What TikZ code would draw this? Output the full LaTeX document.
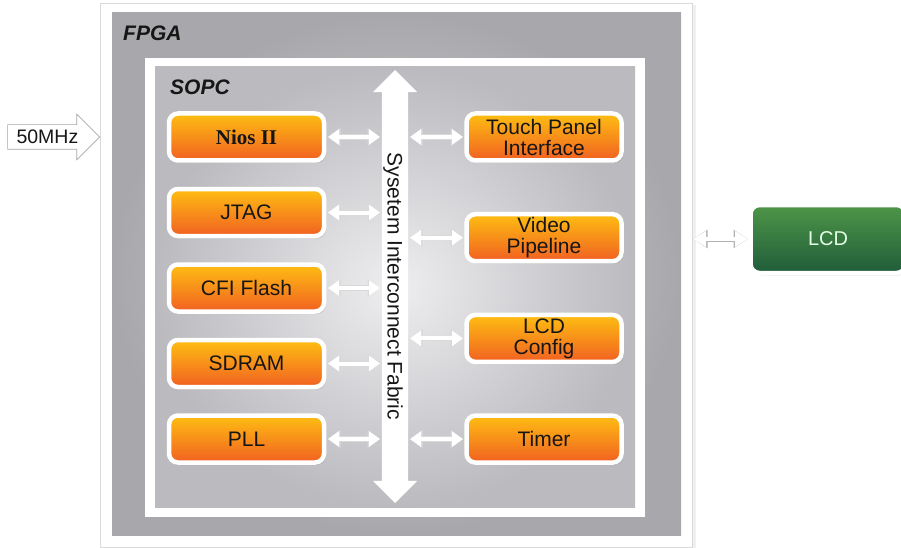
\documentclass[tikz,border=0pt]{standalone}
\usepackage{fontspec}
\setmainfont{Liberation Sans}
\newfontfamily\niosfont{Liberation Serif}
\usepackage{tikz}
\usetikzlibrary{positioning}
\usetikzlibrary{shapes.arrows,arrows.meta,shadows}
\usepackage{xcolor}

\definecolor{orangetop}{RGB}{254,190,18}
\definecolor{orangebot}{RGB}{241,96,34}
\definecolor{greentop}{RGB}{78,150,72}
\definecolor{greenbot}{RGB}{32,92,58}
\definecolor{fpgaout}{RGB}{168,168,172}
\definecolor{fpgain}{RGB}{214,214,216}
\definecolor{sopcout}{RGB}{186,186,191}
\definecolor{sopcin}{RGB}{238,238,240}
\definecolor{textdark}{RGB}{22,22,22}

\begin{document}
\begin{tikzpicture}[x=1pt, y=-1pt,
		framenode/.style={rectangle, fill=white, inner sep=0pt, outer sep=0pt},
		panelnode/.style={rectangle, inner sep=0pt, outer sep=0pt, inner color=#1in, outer color=#1out},
		titlenode/.style={inner sep=0pt, text=textdark, font=\fontsize{21}{21}\selectfont\bfseries\itshape},
		blocknode/.style={rectangle, rounded corners=9pt, draw=white, line width=4.5pt, top color=orangetop, bottom color=orangebot, minimum width=155pt, minimum height=47pt, inner sep=0pt, outer sep=0pt, align=center, text=textdark, font=\fontsize{21}{21}\selectfont, drop shadow={opacity=0.22, shadow xshift=2pt, shadow yshift=-2.5pt}},
		lcdnode/.style={blocknode, top color=greentop, bottom color=greenbot, minimum height=68pt, text=white!90!green, font=\fontsize{20}{20}\selectfont},
		busnode/.style={double arrow, fill=white, draw=none, rotate=-90, double arrow head extend=9pt, minimum height=433pt, inner xsep=0pt, inner ysep=0pt, text height=20.5pt, text depth=5.5pt, text=textdark, font=\fontsize{21}{21}\selectfont},
		clknode/.style={single arrow, fill=white, draw=black!35, line width=0.6pt, single arrow head extend=10.5pt, minimum height=92pt, inner xsep=3pt, inner ysep=0pt, text height=19pt, text depth=5pt, text=textdark, font=\fontsize{19.5}{19.5}\selectfont},
		linktip/.tip={Triangle[length=11pt,width=15pt]},
		linkedge/.tip={Triangle[length=12.5pt,width=17.5pt]},
		lcdtip/.tip={Triangle[length=13pt,width=15pt]},
		lcdedge/.tip={Triangle[length=14.5pt,width=17.5pt]},
		link/.style={draw=white, line width=4pt, linktip-linktip, preaction={draw=black!15, line width=5.5pt, linkedge-linkedge}},
		lcdlink/.style={draw=white, line width=3.5pt, lcdtip-lcdtip, preaction={draw=black!30, line width=5pt, lcdedge-lcdedge}},
		]
		\useasboundingbox (0,0) rectangle (901,548);
		
		%Panels
		\node[framenode, draw=black!15, line width=0.6pt, drop shadow={opacity=0.12, shadow xshift=4pt, shadow yshift=-2pt}, minimum width=592pt, minimum height=544pt] (fpgaframe) at (396,275) {};
		\node[panelnode=fpga, minimum width=569pt, minimum height=522pt] (fpga) at (396.5,274) {};
		\node[framenode, minimum width=500pt, minimum height=459pt] (sopcframe) at (395,287.5) {};
		\node[panelnode=sopc, minimum width=480pt, minimum height=440pt] (sopc) at (395,287) {};
		\node[titlenode] (fpga-title) [below right=12.5pt and 11pt of fpga.north west] {FPGA};
		\node[titlenode] (sopc-title) [below right=12.5pt and 15pt of sopc.north west] {SOPC};
		
		%Bus
		\node[busnode] (bus) at (395,286.5) {Sysetem Interconnect Fabric};
		
		%Nodes
		\node[blocknode] (nios)   at (246.5,137)              {{\niosfont\bfseries Nios II}};
		\node[blocknode] (jtag)   [below=28.5pt of nios]      {JTAG};
		\node[blocknode] (flash)  [below=28.5pt of jtag]      {CFI Flash};
		\node[blocknode] (sdram)  [below=28.5pt of flash]     {SDRAM};
		\node[blocknode] (pll)    [below=28.5pt of sdram]     {PLL};
		\node[blocknode] (touch)  [right=142.5pt of nios]     {Touch Panel\\Interface};
		\node[blocknode] (video)  [below=53.7pt of touch]     {Video\\Pipeline};
		\node[blocknode] (config) [below=53.7pt of video]     {LCD\\Config};
		\node[blocknode] (timer)  [below=53.7pt of config]    {Timer};
		\node[lcdnode]   (lcd)    at (828,239)                {LCD};
		\node[clknode, anchor=tip] (clk) at (100,137)         {50MHz};
		
		%Lines
		\foreach \blk in {nios,jtag,flash,sdram,pll}
		\draw[link, shorten <=4pt, shorten >=15pt] (\blk.east) -- (\blk.east -| bus.center);
		\foreach \blk in {touch,video,config,timer}
		\draw[link, shorten <=15pt, shorten >=3.5pt] (\blk.west -| bus.center) -- (\blk.west);
		\draw[lcdlink, shorten <=1pt, shorten >=2.5pt] (fpgaframe.east |- lcd.west) -- (lcd.west);
	\end{tikzpicture}
\end{document}
